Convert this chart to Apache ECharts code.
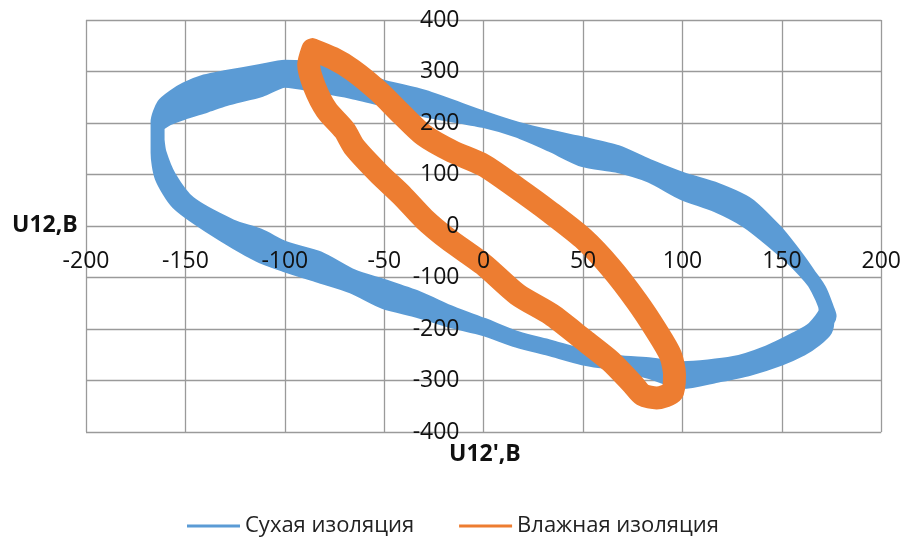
<!DOCTYPE html>
<html>
<head>
<meta charset="utf-8">
<script src="https://cdn.jsdelivr.net/npm/echarts@6/dist/echarts.min.js"></script>
<style>
  html, body { margin: 0; padding: 0; background: #fff; }
  #chart { width: 904px; height: 537px; }
</style>
</head>
<body>
<div id="chart"></div>
<script>
// U12 vs U12' voltage loops: three recorded cycles for dry insulation, one for wet
const seriesNames = ['Сухая изоляция', 'Влажная изоляция'];

const xTicks = { min: -200, max: 200, step: 50 };
const yTicks = { min: -400, max: 400, step: 100 };

// Dry insulation, outer cycle [U12', U12]
const dryCycleA = [
  [-164,167],[-164,202],[-161,235],[-155,254],[-150,266],[-140,281],[-130,289],[-112,301],
  [-100,309],[-83,305],[-66,289],[-50,270],[-30,251],[0,210],[17,189],[34,173],[50,160],
  [67,144],[84,115],[100,91],[117,71],[133,42],[147,-10],[154,-43],[162,-85],[168,-122],
  [172,-157],[173,-177],[172,-202],[167,-221],[160,-239],[149,-258],[133,-278],[117,-291],
  [100,-303],[84,-284],[67,-268],[50,-257],[33,-239],[17,-223],[0,-200],[-16,-185],
  [-33,-165],[-50,-148],[-66,-118],[-83,-97],[-100,-76],[-113,-57],[-138,0],[-154,45],
  [-162,95],[-164,142],[-164,167]
];

// Dry insulation, middle cycle [U12', U12]
const dryCycleM = [
  [-164,167],[-164,196],[-161,219],[-157,235],[-150,245],[-140,256],[-130,268],[-112,284],
  [-100,295],[-83,289],[-66,274],[-50,257],[-30,238],[0,207],[17,186],[34,165],[50,144],
  [67,130],[84,106],[100,78],[117,55],[133,24],[139,2],[150,-37],[161,-82],[169,-124],
  [173,-163],[174,-175],[170,-198],[162,-224],[150,-246],[134,-266],[117,-281],[100,-291],
  [84,-276],[67,-266],[50,-254],[33,-237],[17,-220],[0,-196],[-16,-177],[-33,-152],
  [-50,-132],[-66,-108],[-83,-80],[-100,-59],[-113,-37],[-132,0],[-151,45],[-160,95],
  [-164,142],[-164,167]
];

// Dry insulation, inner cycle [U12', U12]
const dryCycleB = [
  [-164,167],[-164,192],[-159,208],[-150,221],[-140,233],[-130,246],[-112,264],[-100,282],
  [-83,272],[-66,260],[-50,245],[-30,225],[0,204],[17,185],[34,157],[50,128],[67,117],
  [84,97],[100,64],[117,40],[132,10],[145,-29],[158,-74],[168,-120],[172,-163],[166,-198],
  [157,-219],[143,-245],[126,-266],[100,-276],[84,-269],[67,-264],[50,-252],[33,-234],
  [17,-218],[0,-192],[-16,-169],[-33,-140],[-50,-117],[-66,-97],[-83,-62],[-100,-43],
  [-113,-18],[-127,0],[-148,45],[-158,95],[-163,142],[-164,167]
];

// Wet insulation cycle [U12', U12]
const wetCycle = [
  [-86,342],[-76,326],[-66,303],[-53,262],[-41,216],[-30,176],[-16,145],[0,118],[17,73],
  [33,28],[50,-24],[64,-81],[77,-146],[87,-204],[94,-251],[96,-289],[95,-322],[87,-334],
  [80,-328],[75,-307],[64,-263],[50,-220],[34,-172],[17,-133],[0,-75],[-18,-25],[-30,14],
  [-41,59],[-53,103],[-65,153],[-70,186],[-79,225],[-85,270],[-88,313],[-86,342]
];

const FONT = '"Open Sans", "Noto Sans", sans-serif';
const gridColor = '#9a9a9a';

const chart = echarts.init(document.getElementById('chart'), null, { renderer: 'canvas' });

const plot = { left: 86, right: 19, top: 20, bottom: 105 };
const plotW = 904 - plot.left - plot.right;
const plotH = 537 - plot.top - plot.bottom;

const baseX = { type: 'value', min: xTicks.min, max: xTicks.max, interval: xTicks.step };
const baseY = { type: 'value', min: yTicks.min, max: yTicks.max, interval: yTicks.step };

chart.setOption({
  animation: false,
  backgroundColor: '#fff',
  grid: Object.assign({ containLabel: false }, plot),
  xAxis: [
    // gridlines (including the zero line), under the loops
    Object.assign({}, baseX, {
      z: 0,
      axisLine: { show: false },
      axisTick: { show: false },
      axisLabel: { show: false },
      splitLine: { show: true, lineStyle: { color: gridColor, width: 1.3 } }
    }),
    // tick labels along the horizontal centre line, above the loops
    Object.assign({}, baseX, {
      z: 10,
      position: 'bottom',
      offset: -plotH / 2,
      axisLine: { show: false, onZero: false },
      axisTick: { show: false },
      splitLine: { show: false },
      axisLabel: { show: true, margin: 24, fontSize: 23, fontFamily: FONT, color: '#111' }
    })
  ],
  yAxis: [
    Object.assign({}, baseY, {
      z: 0,
      axisLine: { show: false },
      axisTick: { show: false },
      axisLabel: { show: false },
      splitLine: { show: true, lineStyle: { color: gridColor, width: 1.3 } }
    }),
    // tick labels along the vertical centre line, above the loops
    Object.assign({}, baseY, {
      z: 10,
      position: 'left',
      offset: -plotW / 2,
      axisLine: { show: false, onZero: false },
      axisTick: { show: false },
      splitLine: { show: false },
      axisLabel: { show: true, margin: 26, fontSize: 23, fontFamily: FONT, color: '#111' }
    })
  ],
  legend: {
    left: 182,
    top: 510,
    icon: 'rect',
    itemWidth: 53,
    itemHeight: 3,
    itemGap: 45,
    textStyle: { fontSize: 22, fontFamily: FONT, color: '#222' },
    data: seriesNames
  },
  graphic: [
    {
      type: 'text', left: 12, top: 214,
      style: { text: 'U12,В', fontFamily: FONT, fontWeight: 'bold', fontSize: 23, fill: '#111' }
    },
    {
      type: 'text', left: 449, top: 443,
      style: { text: "U12',В", fontFamily: FONT, fontWeight: 'bold', fontSize: 23, fill: '#111' }
    }
  ],
  series: [
    {
      name: seriesNames[0],
      type: 'line',
      xAxisIndex: 0, yAxisIndex: 0,
      z: 2,
      data: dryCycleA.concat(dryCycleM, dryCycleB),
      symbol: 'none',
      smooth: 0.25,
      color: '#5B9BD5',
      lineStyle: { width: 14, color: '#5B9BD5', cap: 'round', join: 'round' }
    },
    {
      name: seriesNames[1],
      type: 'line',
      xAxisIndex: 0, yAxisIndex: 0,
      z: 3,
      data: wetCycle,
      symbol: 'none',
      smooth: 0.25,
      color: '#ED7D31',
      lineStyle: { width: 23, color: '#ED7D31', cap: 'round', join: 'round' }
    }
  ]
});
</script>
</body>
</html>
